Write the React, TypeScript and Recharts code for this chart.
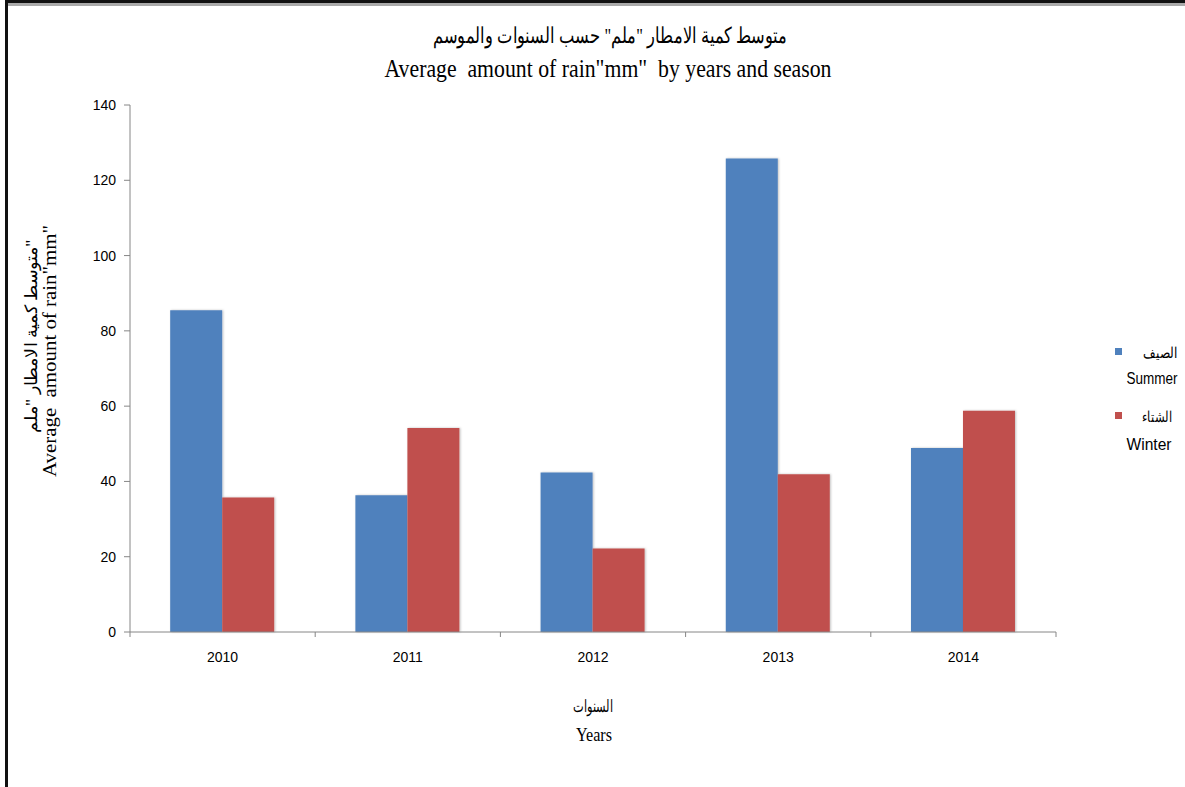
import React from 'react';
import { BarChart, Bar, XAxis, YAxis } from 'recharts';

const years = ['2010', '2011', '2012', '2013', '2014'];
const summer = [85.5, 36.3, 42.4, 125.8, 48.9];
const winter = [35.7, 54.2, 22.2, 41.9, 58.8];
const yTicks = [0, 20, 40, 60, 80, 100, 120, 140];

const titleAr = 'متوسط كمية الامطار "ملم" حسب السنوات والموسم';
const titleEn = 'Average  amount of rain"mm"  by years and season';
const yLabelAr = 'متوسط كمية الامطار "ملم"';
const yLabelEn = 'Average  amount of rain"mm"';
const xLabelAr = 'السنوات';
const xLabelEn = 'Years';
const legendAr = ['الصيف', 'الشتاء'];
const legendEn = ['Summer', 'Winter'];

const data = years.map((y, i) => ({ year: y, summer: summer[i], winter: winter[i] }));

const BLUE = '#4F81BD';
const RED = '#C0504D';
const AXIS = '#868686';
const TICK_FONT = '"Liberation Sans Narrow", "Arial Narrow", "Liberation Sans", sans-serif';
const SERIF = '"Liberation Serif", "Times New Roman", "DejaVu Serif", serif';
const PRE: React.CSSProperties = { whiteSpace: 'pre' };

const XTick = (props: any) => {
  const { x, y, payload, index, width, visibleTicksCount } = props;
  const half = width / visibleTicksCount / 2;
  const axisY = y;
  return (
    <g>
      <line x1={x - half} x2={x - half} y1={axisY} y2={axisY + 5} stroke={AXIS} />
      {index === visibleTicksCount - 1 && (
        <line x1={x + half} x2={x + half} y1={axisY} y2={axisY + 5} stroke={AXIS} />
      )}
      <text x={x} y={axisY + 30} textAnchor="middle" fontSize={14} fill="#000" fontFamily={TICK_FONT}>
        {payload.value}
      </text>
    </g>
  );
};

export default function App() {
  return (
    <div style={{ position: 'absolute', left: 0, top: 0, width: 1185, height: 787, background: '#fff', overflow: 'hidden' }}>
      <BarChart
        width={1185}
        height={787}
        data={data}
        margin={{ top: 105, right: 129, bottom: 125, left: 70 }}
        barCategoryGap="21.7%"
        barGap={0}
      >
        <defs>
          <filter id="barShadow" x="-10%" y="-5%" width="120%" height="110%">
            <feDropShadow dx="1" dy="0" stdDeviation="1.2" floodColor="#000" floodOpacity="0.25" />
          </filter>
        </defs>
        <XAxis
          dataKey="year"
          height={30}
          tickLine={false}
          tickSize={0}
          tickMargin={0}
          axisLine={{ stroke: AXIS }}
          tick={<XTick />}
          interval={0}
        />
        <YAxis
          width={60}
          domain={[0, 140]}
          ticks={yTicks}
          interval={0}
          tickSize={6}
          tickMargin={8}
          axisLine={{ stroke: AXIS }}
          tickLine={{ stroke: AXIS }}
          tick={{ fontSize: 14, fill: '#000', fontFamily: TICK_FONT }}
        />
        <Bar dataKey="summer" fill={BLUE} isAnimationActive={false} filter="url(#barShadow)" />
        <Bar dataKey="winter" fill={RED} isAnimationActive={false} filter="url(#barShadow)" />
      </BarChart>

      <svg width={1185} height={787} style={{ position: 'absolute', left: 0, top: 0, pointerEvents: 'none' }}>
        {/* frame */}
        <rect x={5} y={0} width={1180} height={3} fill="#111" />
        <rect x={5} y={3} width={1180} height={3} fill="#aaa" />
        <rect x={5} y={0} width={3} height={787} fill="#111" />

        {/* titles */}
        <text x={610} y={43} textAnchor="middle" fontSize={22} fontFamily={SERIF} fill="#000" textLength={354} lengthAdjust="spacingAndGlyphs" style={PRE}>
          {titleAr}
        </text>
        <text x={608} y={77} textAnchor="middle" fontSize={26} fontFamily={SERIF} fill="#000" textLength={447} lengthAdjust="spacingAndGlyphs" style={PRE}>
          {titleEn}
        </text>

        {/* y label */}
        <text transform="translate(31,336) rotate(-90)" textAnchor="middle" dominantBaseline="central" fontSize={17} fontFamily={SERIF} fill="#000" textLength={193} lengthAdjust="spacingAndGlyphs" style={PRE}>
          {yLabelAr}
        </text>
        <text transform="translate(49,351) rotate(-90)" textAnchor="middle" dominantBaseline="central" fontSize={19} fontFamily={SERIF} fill="#000" textLength={252} lengthAdjust="spacingAndGlyphs" style={PRE}>
          {yLabelEn}
        </text>

        {/* x label */}
        <text x={593} y={712} textAnchor="middle" fontSize={17} fontFamily={SERIF} fill="#000" textLength={40} lengthAdjust="spacingAndGlyphs">
          {xLabelAr}
        </text>
        <text x={594} y={741} textAnchor="middle" fontSize={18} fontFamily={SERIF} fill="#000" textLength={36} lengthAdjust="spacingAndGlyphs">
          {xLabelEn}
        </text>

        {/* legend */}
        <rect x={1115} y={348} width={7} height={7} fill={BLUE} />
        <text x={1160} y={358} textAnchor="middle" fontSize={15} fontFamily={TICK_FONT} fill="#000" textLength={35} lengthAdjust="spacingAndGlyphs">
          {legendAr[0]}
        </text>
        <text x={1152} y={384} textAnchor="middle" fontSize={16} fontFamily={TICK_FONT} fill="#000" textLength={51} lengthAdjust="spacingAndGlyphs">
          {legendEn[0]}
        </text>
        <rect x={1115} y={412} width={7} height={7} fill={RED} />
        <text x={1157} y={422} textAnchor="middle" fontSize={15} fontFamily={TICK_FONT} fill="#000" textLength={30} lengthAdjust="spacingAndGlyphs">
          {legendAr[1]}
        </text>
        <text x={1149} y={450} textAnchor="middle" fontSize={16} fontFamily={TICK_FONT} fill="#000" textLength={45} lengthAdjust="spacingAndGlyphs">
          {legendEn[1]}
        </text>
      </svg>
    </div>
  );
}
